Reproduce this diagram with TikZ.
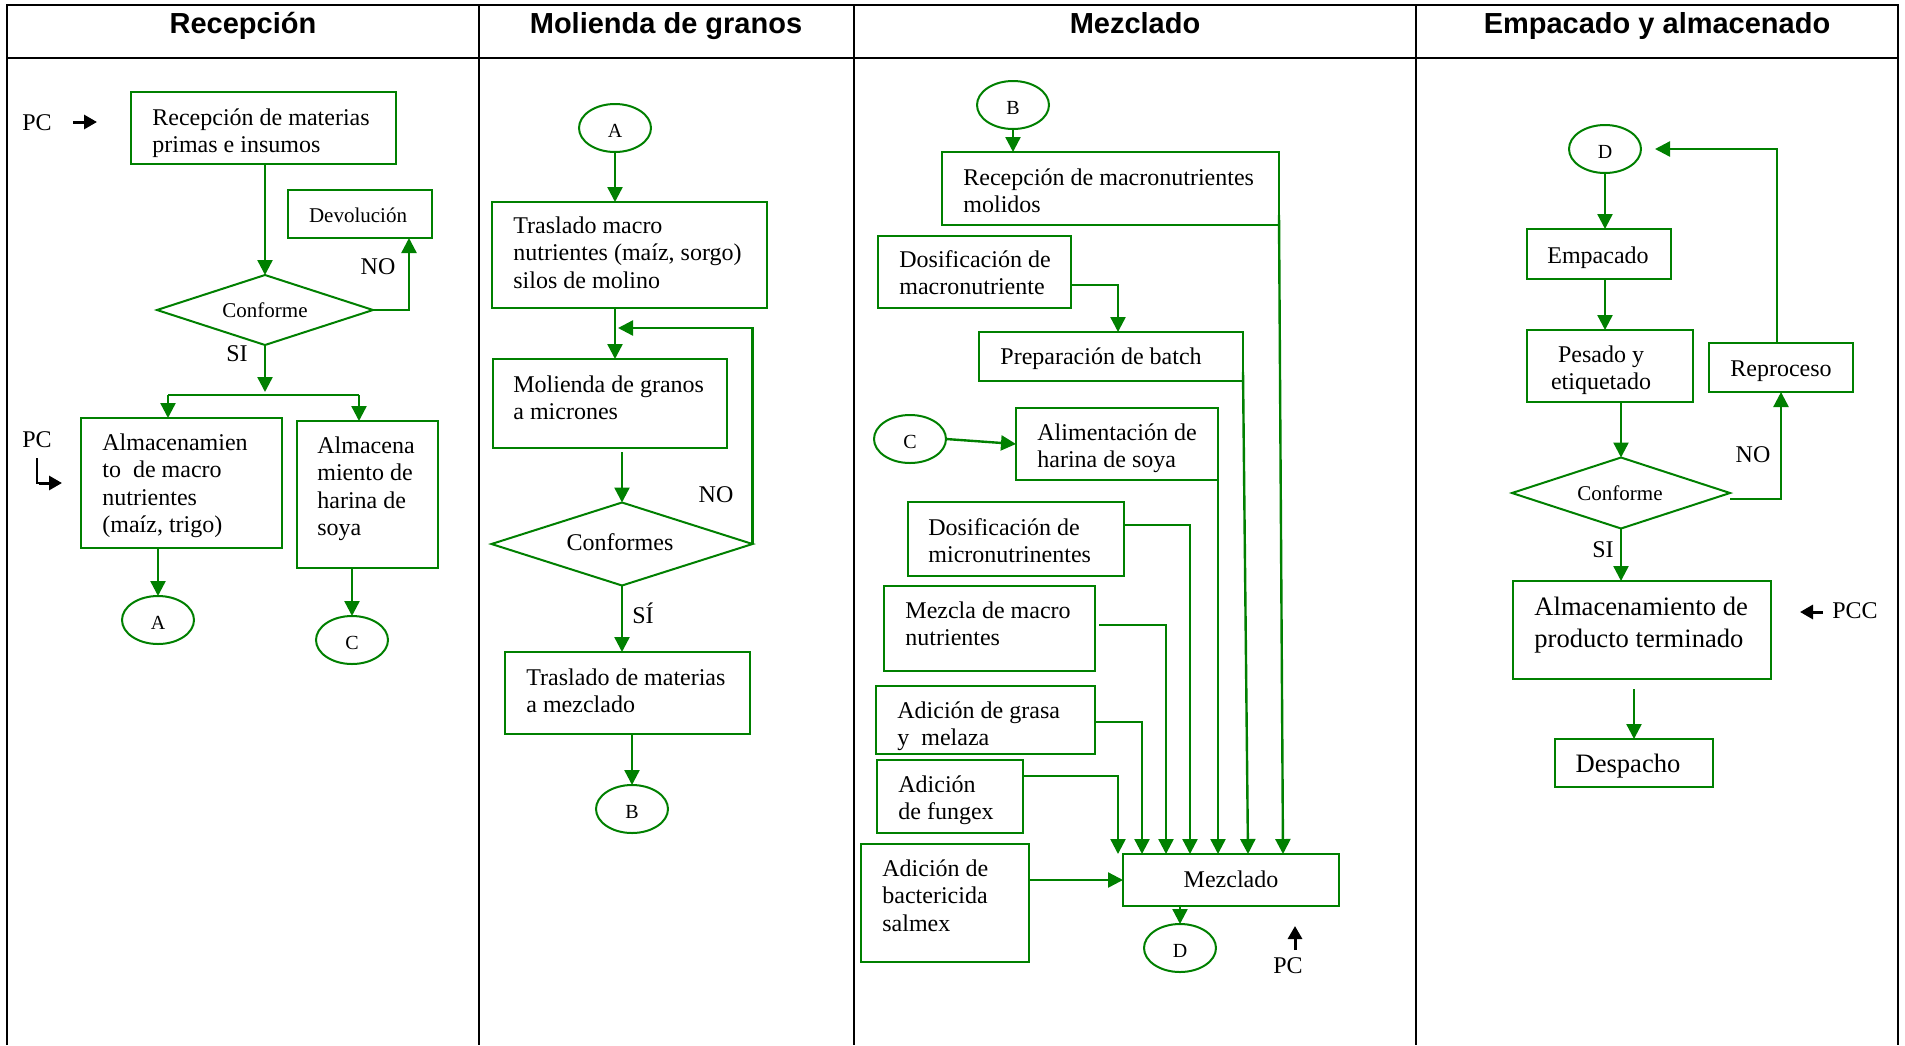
\documentclass[tikz,border=0pt]{standalone}
\usepackage{fontspec}
\setmainfont{Liberation Serif}
\newfontfamily\hdrfont{Liberation Sans}
\usetikzlibrary{arrows.meta,shapes.geometric}
\definecolor{gr}{RGB}{0,128,0}
\tikzset{
 gbox/.style={draw=gr, line width=1pt, rectangle, inner sep=0pt, outer sep=0pt, anchor=north west},
 gdia/.style={draw=gr, line width=1pt, diamond, inner sep=0pt, outer sep=0pt},
 gell/.style={draw=gr, line width=1pt, ellipse, inner sep=0pt, outer sep=0pt, minimum width=36pt, minimum height=24pt, text height=9.5pt, text depth=0pt, font=\fontsize{10}{12}\selectfont},
 garrow/.style={draw=gr, line width=1.2pt, -{Triangle[length=7.5pt,width=7.5pt]}},
 gline/.style={draw=gr, line width=1.2pt},
 barrow/.style={draw=black, line width=1.5pt, -{Triangle[length=6.5pt,width=7pt]}},
 txt/.style={inner sep=0pt, font=\fontsize{12}{13.8}\selectfont},
 stxt/.style={inner sep=0pt, font=\fontsize{10.5}{12}\selectfont},
 ltxt/.style={inner sep=0pt, font=\fontsize{13.3}{16}\selectfont},
 htxt/.style={inner sep=0pt, font=\hdrfont\bfseries\fontsize{14.5}{17}\selectfont},
 tline/.style={draw=black, line width=1.2pt},
}
\newcommand\gbx[5]{\node[gbox, minimum width={(#4-#2)*0.5pt}, minimum height={(#5-#3)*0.5pt}] (#1) at (#2,#3) {};}
\newcommand\txl[5][txt]{\node[#1,anchor=base west] (#2) at (#3,#4) {\begin{tabular}[t]{@{}l@{}}#5\end{tabular}};}
\newcommand\txc[5][txt]{\node[#1,anchor=base] (#2) at (#3,#4) {\begin{tabular}[t]{@{}c@{}}#5\end{tabular}};}
\begin{document}
\begin{tikzpicture}[x=0.5pt,y=-0.5pt]
\useasboundingbox (0,0) rectangle (1905,1045);
\fill[white] (0,0) rectangle (1905,1045);
% table
\draw[tline] (7,1045) -- (7,5) -- (1898,5) -- (1898,1045);
\draw[tline] (7,58) -- (1898,58);
\draw[tline] (479,5) -- (479,1045);
\draw[tline] (854,5) -- (854,1045);
\draw[tline] (1416,5) -- (1416,1045);
\node[htxt,anchor=base] (h1) at (243,33) {Recepción};
\node[htxt,anchor=base] (h2) at (666,33) {Molienda de granos};
\node[htxt,anchor=base] (h3) at (1135,33) {Mezclado};
\node[htxt,anchor=base] (h4) at (1657,33) {Empacado y almacenado};

% ---------- column 1
\gbx{rec}{131}{92}{396}{164}
\gbx{dev}{288}{190}{432}{238}
\gbx{alm1}{81}{418}{282}{548}
\gbx{alm2}{297}{421}{438}{568}
\node[gdia, minimum width=108pt, minimum height=35pt] (conf1) at (265,310) {};
\node[gell] (A1) at (158,620) {A};
\node[gell] (C1) at (352,640) {C};
\txl{t-rec}{152}{125}{Recepción de materias\\primas e insumos}
\txc[stxt]{t-dev}{358}{222}{Devolución}
\txc[stxt]{t-conf1}{265}{317}{Conforme}
\node[txt,anchor=base] (no1) at (378,274) {NO};
\node[txt,anchor=base] (si1) at (237,361) {SI};
\txl{t-alm1}{102}{450}{Almacenamien\\to\ \ de macro\\nutrientes\\(maíz, trigo)}
\txl{t-alm2}{317}{453}{Almacena\\miento de\\harina de\\soya}
\node[txt,anchor=base] (pc1) at (37,130) {PC};
\node[txt,anchor=base] (pc2) at (37,447) {PC};
\coordinate (pc1a) at (73,122);
\coordinate (pc1b) at (97,122);
\draw[barrow] (pc1a) -- (pc1b);
\coordinate (pc2a) at (37,458);
\coordinate (pc2b) at (37,483);
\coordinate (pc2c) at (62,483);
\draw[black, line width=0.8pt] (pc2a) -- (pc2b) -- ++(6,0);
\draw[barrow] ([xshift=1pt]pc2b) -- (pc2c);
\draw[garrow] (rec.south -| conf1.north) -- (conf1.north);
\draw[garrow] (conf1.east) -| ([xshift=24.5pt]dev.south);
\coordinate (split) at (265,395);
\coordinate (sl) at (168,395);
\coordinate (sr) at (359,395);
\draw[garrow, shorten >=1.5pt] (conf1.south) -- (split);
\draw[gline] (sl) -- (sr);
\draw[garrow] (sl) -- (sl |- alm1.north);
\draw[garrow] (sr) -- (sr |- alm2.north);
\draw[garrow] (A1.north |- alm1.south) -- (A1.north);
\draw[garrow] (C1.north |- alm2.south) -- (C1.north);

% ---------- column 2
\node[gell] (A2) at (615,128) {A};
\gbx{tm}{492}{202}{767}{308}
\gbx{mg}{493}{359}{727}{448}
\node[gdia, minimum width=130.5pt, minimum height=41.5pt] (conf2) at (622,544) {};
\gbx{tmz}{505}{652}{750}{734}
\node[gell] (B2) at (632,809) {B};
\txl{t-tm}{513}{233}{Traslado macro\\nutrientes (maíz, sorgo)\\silos de molino}
\txl{t-mg}{513}{392}{Molienda de granos\\a micrones}
\txc{t-conf2}{620}{550}{Conformes}
\node[txt,anchor=base] (no2) at (716,502) {NO};
\node[txt,anchor=base] (si2) at (643,623) {SÍ};
\txl{t-tmz}{526}{685}{Traslado de materias\\a mezclado}
\draw[garrow] (A2.south) -- (A2.south |- tm.north);
\draw[garrow] (tm.south -| A2) -- (mg.north -| A2);
\draw[garrow] (mg.south -| conf2) ++(0,4) -- (conf2.north);
\coordinate (fb) at (618,328);
\draw[garrow] (conf2.east) |- (fb);
\draw[garrow] (conf2.south) -- (conf2.south |- tmz.north);
\draw[garrow] (B2.north |- tmz.south) -- (B2.north);

% ---------- column 3
\node[gell] (B3) at (1013,105) {B};
\gbx{rmm}{942}{152}{1279}{225}
\gbx{dma}{878}{236}{1071}{308}
\gbx{pb}{979}{332}{1243}{381}
\node[gell] (C3) at (910,439) {C};
\gbx{ali}{1016}{408}{1218}{480}
\gbx{dmi}{908}{502}{1124}{576}
\gbx{mzm}{884}{586}{1095}{671}
\gbx{gra}{876}{686}{1095}{754}
\gbx{fun}{877}{760}{1023}{833}
\gbx{bac}{861}{844}{1029}{962}
\gbx{mez}{1123}{854}{1339}{906}
\node[gell] (D3) at (1180,948) {D};
\txl{t-rmm}{963}{185}{Recepción de macronutrientes\\molidos}
\txl{t-dma}{899}{267}{Dosificación de\\macronutriente}
\txl{t-pb}{1000}{364}{Preparación de batch}
\txl{t-ali}{1037}{440}{Alimentación de\\harina de soya}
\txl{t-dmi}{928}{535}{Dosificación de\\micronutrinentes}
\txl{t-mzm}{905}{618}{Mezcla de macro\\nutrientes}
\txl{t-gra}{897}{718}{Adición de grasa\\y\ \ melaza}
\txl{t-fun}{898}{792}{Adición\\de fungex}
\txl{t-bac}{882}{876}{Adición de\\bactericida\\salmex}
\txc{t-mez}{1231}{887}{Mezclado}
\node[txt,anchor=base] (pc3) at (1288,973) {PC};
\coordinate (p3a) at (1295,950);
\coordinate (p3b) at (1295,926);
\draw[barrow] (p3a) -- (p3b);
\draw[garrow] (B3.south) -- (B3.south |- rmm.north);
\coordinate (k1) at (1118,285);
\draw[garrow] (dma.east |- k1) -| (k1 |- pb.north);
\draw[garrow] (C3.east) -- (ali.west);
\coordinate (v1) at (1283,0);
\coordinate (v2) at (1248,0);
\draw[garrow] (rmm.south east) ++(0,-10) -- (v1 |- mez.north);
\draw[garrow] (pb.south east) ++(0,-9) -- (v2 |- mez.north);
\draw[garrow] (ali.south east) ++(0,-13) -- (ali.south east |- mez.north);
\coordinate (m1) at (1190,525);
\coordinate (m2) at (1166,625);
\coordinate (m3) at (1142,722);
\coordinate (m4) at (1118,776);
\draw[garrow] (dmi.east |- m1) -| (m1 |- mez.north);
\draw[garrow] ([xshift=2pt]mzm.east |- m2) -| (m2 |- mez.north);
\draw[garrow] (gra.east |- m3) -| (m3 |- mez.north);
\draw[garrow] (fun.east |- m4) -| (m4 |- mez.north);
\draw[garrow] (bac.east |- mez.west) -- (mez.west);
\draw[garrow] (D3.north |- mez.south) -- (D3.north);

% ---------- column 4
\node[gell] (D4) at (1605,149) {D};
\gbx{emp}{1527}{229}{1671}{279}
\gbx{pes}{1527}{330}{1693}{402}
\gbx{rep}{1709}{343}{1853}{392}
\node[gdia, minimum width=109pt, minimum height=35.5pt] (conf4) at (1621,493) {};
\gbx{apt}{1513}{581}{1771}{679}
\gbx{des}{1555}{739}{1713}{787}
\txc{t-emp}{1598}{263}{Empacado}
\txc{t-pes}{1601}{362}{Pesado y\\etiquetado}
\txc[stxt]{t-conf4}{1620}{500}{Conforme}
\txc{t-rep}{1781}{376}{Reproceso}
\node[txt,anchor=base] (no4) at (1753,462) {NO};
\node[txt,anchor=base] (si4) at (1603,557) {SI};
\txl[ltxt]{t-apt}{1534}{615}{Almacenamiento de\\producto terminado}
\node[txt,anchor=base] (pcc) at (1855,618) {PCC};
\coordinate (pca) at (1823,612);
\coordinate (pcb) at (1800,612);
\draw[barrow] (pca) -- (pcb);
\txc[ltxt]{t-des}{1628}{772}{Despacho}
\draw[garrow] (D4.south) -- (D4.south |- emp.north);
\draw[garrow] (emp.south -| D4) -- (pes.north -| D4);
\draw[garrow] (pes.south -| conf4) -- (conf4.north);
\draw[garrow] ([yshift=-3pt]conf4.east) -| (rep.south);
\coordinate (rt) at (1655,149);
\draw[garrow] ([xshift=-2pt]rep.north) |- (rt);
\draw[garrow] (conf4.south) -- (conf4.south |- apt.north);
\draw[garrow] (apt.south -| des) ++(0,10) -- (des.north);
\end{tikzpicture}
\end{document}
